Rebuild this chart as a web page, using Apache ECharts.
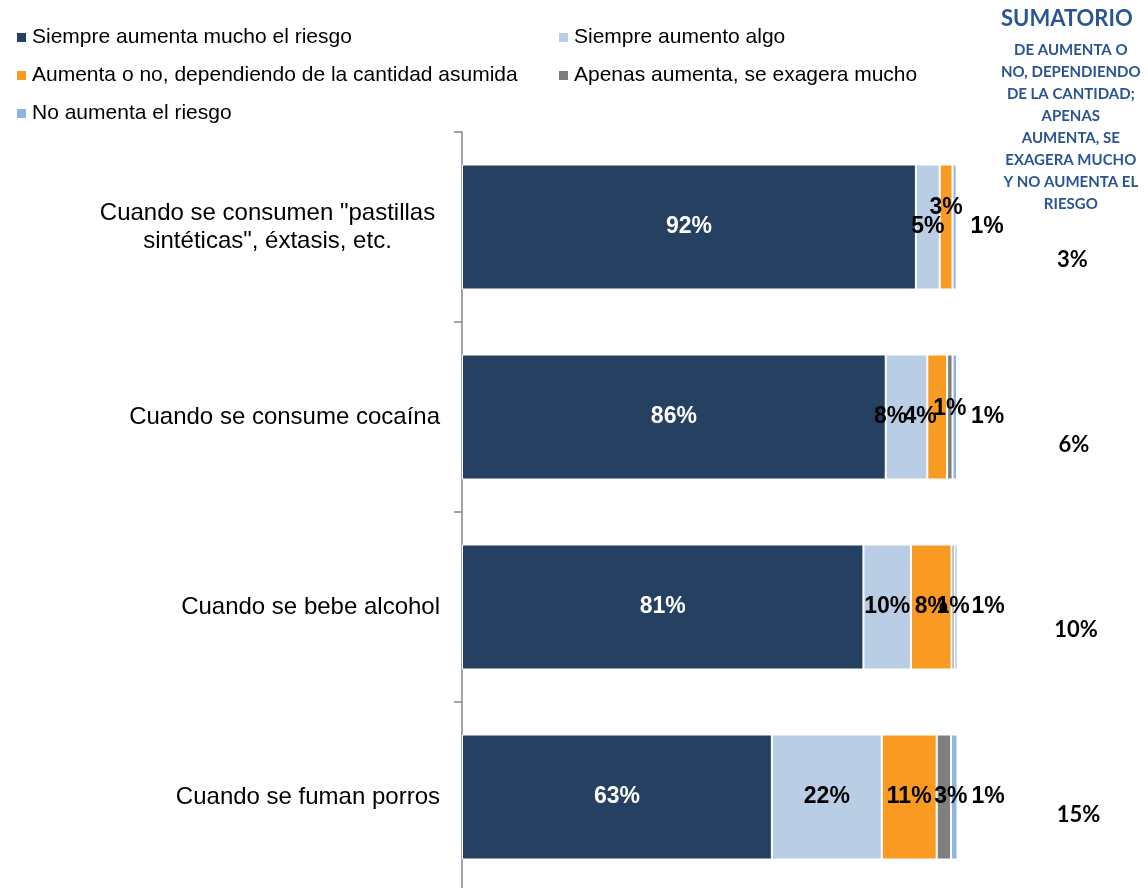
<!DOCTYPE html>
<html>
<head>
<meta charset="utf-8">
<script src="https://cdn.jsdelivr.net/npm/echarts@6/dist/echarts.min.js"></script>
<style>
  html, body { margin: 0; padding: 0; background: #fff; overflow: hidden; }
  #chart { width: 1148px; height: 910px; }
</style>
</head>
<body>
<div id="chart"></div>
<script>
// categorias (de arriba a abajo)
const categorias = [
    'Cuando se consumen "pastillas\nsintéticas", éxtasis, etc.',
    'Cuando se consume cocaína',
    'Cuando se bebe alcohol',
    'Cuando se fuman porros'
];
const nombres = [
    'Siempre aumenta mucho el riesgo',
    'Siempre aumento algo',
    'Aumenta o no, dependiendo de la cantidad asumida',
    'Apenas aumenta, se exagera mucho',
    'No aumenta el riesgo'
];
// valores en %
const aumentaMucho = [91.7, 85.6, 81.1, 62.6];
const aumentoAlgo = [4.8, 8.4, 9.6, 22.2];
const dependeCantidad = [2.6, 4.0, 8.2, 11.1];
const apenasAumenta = [0, 1.1, 0.6, 2.9];
const noAumenta = [0.8, 0.9, 0.9, 1.3];
const sumatorio = [3, 6, 10, 15];

const colores = ['#264061', '#B9CDE5', '#F99B22', '#7F7F7F', '#8EB4E3'];
const valores = [aumentaMucho, aumentoAlgo, dependeCantidad, apenasAumenta, noAumenta];

// ajustes manuales de etiquetas (serie-indice: [dx, dy])
const desplazar = {
    '2-0': [0, -19],
    '1-1': [-16, 0],
    '2-1': [-17, 0],
    '3-1': [0, -8],
    '3-3': [7, 0]
};

const fuente = '"Liberation Sans", Arial, sans-serif';

let mychart = echarts.init(document.getElementById('chart'));

const series = valores.map((arr, s) => ({
    name: nombres[s],
    type: 'bar',
    stack: 'total',
    barWidth: 125,
    xAxisIndex: 0,
    yAxisIndex: 0,
    itemStyle: {
        color: colores[s],
        borderColor: '#ffffff',
        borderWidth: 1
    },
    label: {
        show: true,
        position: s === 4 ? 'right' : 'inside',
        distance: 14,
        color: s === 0 ? '#ffffff' : '#000000',
        fontFamily: fuente,
        fontWeight: 'bold',
        fontSize: 23,
        formatter: (p) => p.value > 0 ? Math.round(p.value) + '%' : ''
    },
    data: arr.map((v, i) => {
        const off = desplazar[s + '-' + i];
        return off ? { value: v, label: { offset: off } } : v;
    })
}));

// columna de sumatorio
series.push({
    name: 'sumatorio',
    type: 'scatter',
    xAxisIndex: 1,
    yAxisIndex: 1,
    symbolSize: 1,
    itemStyle: { color: '#ffffff', opacity: 1 },
    label: {
        show: true,
        position: 'inside',
        color: '#000000',
        fontFamily: 'Lato, "Open Sans", sans-serif',
        fontWeight: 'bold',
        fontSize: 22,
        formatter: (p) => p.value[0] + '%'
    },
    data: sumatorio.map((v, i) => [v, i])
});

let option = {
    backgroundColor: '#ffffff',
    animation: false,
    legend: [
        {
            data: [nombres[0], nombres[2], nombres[4]],
            orient: 'vertical',
            left: 10,
            top: 22,
            itemWidth: 11,
            itemHeight: 11,
            itemGap: 17,
            icon: 'rect',
            selectedMode: false,
            textStyle: { fontFamily: fuente, fontSize: 21, lineHeight: 21, color: '#000' }
        },
        {
            data: [nombres[1], nombres[3]],
            orient: 'vertical',
            left: 552,
            top: 22,
            itemWidth: 11,
            itemHeight: 11,
            itemGap: 17,
            icon: 'rect',
            selectedMode: false,
            textStyle: { fontFamily: fuente, fontSize: 21, lineHeight: 21, color: '#000' }
        }
    ],
    graphic: [
        {
            type: 'text',
            left: 1071 - 70,
            top: 8,
            style: {
                text: 'SUMATORIO',
                x: 70,
                textAlign: 'center',
                fill: '#2B5592',
                font: 'bold 22px Lato, "Open Sans", sans-serif'
            }
        },
        {
            type: 'text',
            left: 1071 - 70,
            top: 39,
            style: {
                text: 'DE AUMENTA O\nNO, DEPENDIENDO\nDE LA CANTIDAD;\nAPENAS\nAUMENTA, SE\nEXAGERA MUCHO\nY NO AUMENTA EL\nRIESGO',
                x: 70,
                textAlign: 'center',
                lineHeight: 22,
                fill: '#2B5592',
                font: 'bold 15px Lato, "Open Sans", sans-serif'
            }
        }
    ],
    grid: [
        { left: 462, top: 132, right: 191, bottom: 18 },
        { left: 1021, top: 167, right: 27, bottom: 2 }
    ],
    xAxis: [
        { type: 'value', gridIndex: 0, min: 0, max: 100, show: false },
        { type: 'value', gridIndex: 1, min: -100, max: 100, show: false }
    ],
    yAxis: [
        {
            type: 'category',
            gridIndex: 0,
            inverse: true,
            data: categorias,
            axisLine: { show: true, lineStyle: { color: '#868686', width: 1.5 } },
            axisTick: { show: true, length: 8, lineStyle: { color: '#868686', width: 1.5 } },
            axisLabel: {
                margin: 22,
                color: '#000000',
                fontFamily: fuente,
                fontSize: 24,
                lineHeight: 28,
                formatter: (v) => v.indexOf('\n') >= 0 ? '{c|' + v + '}' : v,
                rich: {
                    c: {
                        width: 345,
                        align: 'center',
                        fontFamily: fuente,
                        fontSize: 24,
                        lineHeight: 28,
                        color: '#000000'
                    }
                }
            }
        },
        {
            type: 'category',
            gridIndex: 1,
            inverse: true,
            data: categorias,
            show: false
        }
    ],
    series: series
};
mychart.setOption(option);
window.addEventListener('resize', () => {
    mychart.resize();
});
</script>
</body>
</html>
